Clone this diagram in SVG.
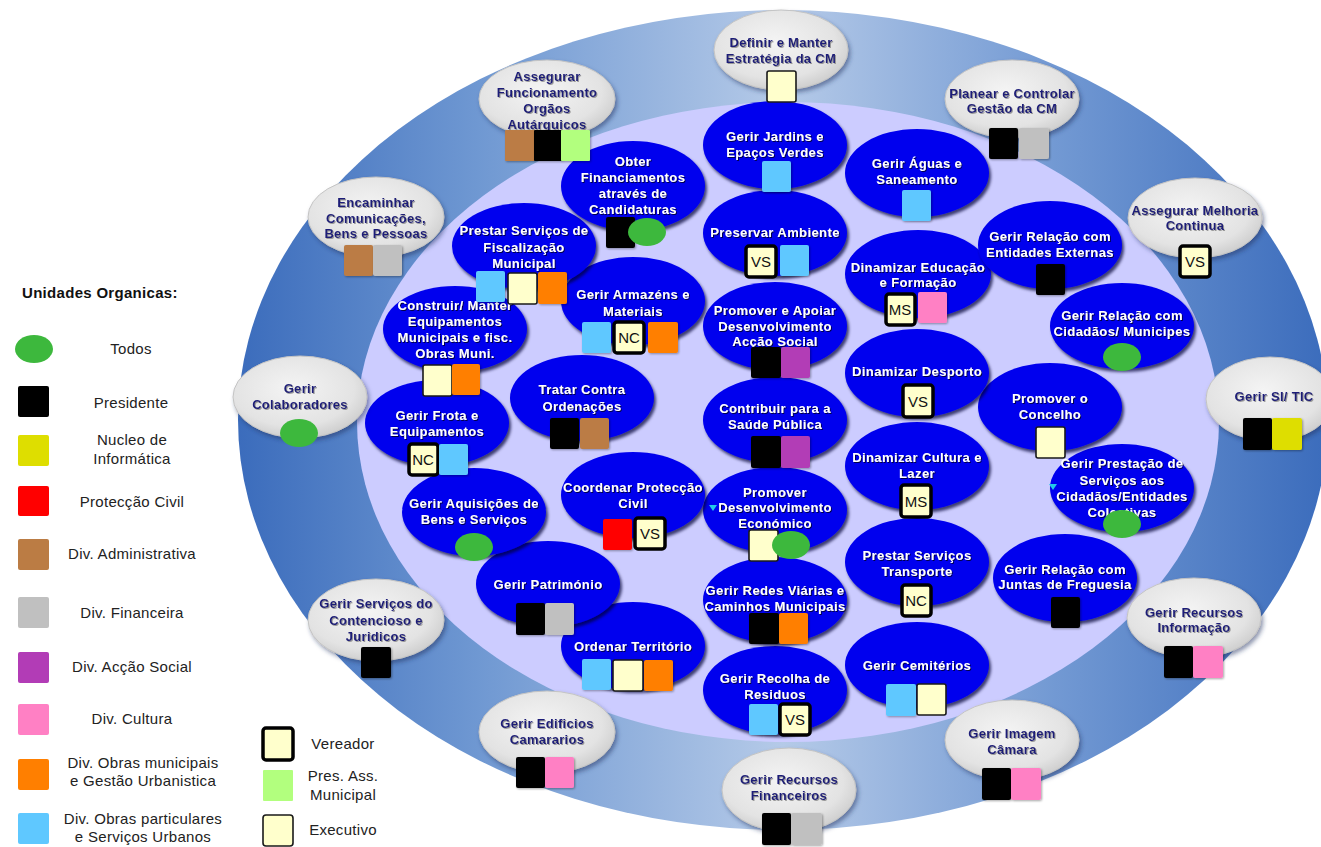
<svg xmlns="http://www.w3.org/2000/svg" width="1321" height="847" viewBox="0 0 1321 847">
<defs>
<linearGradient id="ring" x1="0" y1="0" x2="1" y2="0">
<stop offset="0" stop-color="#3b6cbc"/>
<stop offset="0.22" stop-color="#6f98d2"/>
<stop offset="0.5" stop-color="#b5cae8"/>
<stop offset="0.75" stop-color="#7299d3"/>
<stop offset="1" stop-color="#3b6cbc"/>
</linearGradient>
<radialGradient id="gg" cx="0.45" cy="0.4" r="0.65">
<stop offset="0" stop-color="#f4f4f4"/>
<stop offset="0.7" stop-color="#e3e3e3"/>
<stop offset="1" stop-color="#c9c9c9"/>
</radialGradient>
<filter id="sh" x="-20%" y="-20%" width="140%" height="150%">
<feDropShadow dx="2" dy="3" stdDeviation="1.5" flood-color="#000033" flood-opacity="0.7"/>
</filter>
<filter id="sg" x="-20%" y="-20%" width="140%" height="150%">
<feDropShadow dx="2" dy="3" stdDeviation="2" flood-color="#203060" flood-opacity="0.5"/>
</filter>
<filter id="sb" x="-20%" y="-20%" width="150%" height="150%">
<feDropShadow dx="1" dy="1" stdDeviation="1" flood-color="#000" flood-opacity="0.35"/>
</filter>
<filter id="tw" x="-10%" y="-30%" width="120%" height="170%">
<feDropShadow dx="1" dy="1" stdDeviation="0.6" flood-color="#000022" flood-opacity="0.8"/>
</filter>
<filter id="tg" x="-10%" y="-30%" width="120%" height="170%">
<feDropShadow dx="1" dy="1" stdDeviation="0.6" flood-color="#777" flood-opacity="0.7"/>
</filter>
<style>
.blue{fill:#0000ee;filter:url(#sh)}
.gray{fill:url(#gg);stroke:#c4c4c4;stroke-width:1;filter:url(#sg)}
.bt{font-family:"Liberation Sans",Arial,sans-serif;font-weight:bold;font-size:13px;letter-spacing:0.4px;fill:#fff;text-anchor:middle;filter:url(#tw)}
.gt{font-family:"Liberation Sans",Arial,sans-serif;font-weight:bold;font-size:13px;letter-spacing:0.3px;fill:#1e1e78;text-anchor:middle;filter:url(#tg)}
.lt{font-family:"Liberation Sans",Arial,sans-serif;font-size:15px;letter-spacing:0.3px;fill:#222;text-anchor:middle}
.hd{font-family:"Liberation Sans",Arial,sans-serif;font-weight:bold;font-size:15px;letter-spacing:0.3px;fill:#111}
.bx{filter:url(#sb)}
.k{fill:#000}
.br{fill:#bb7c44}
.gy{fill:#c0c0c0}
.lg{fill:#b2ff7e}
.lb{fill:#5fc8ff}
.or{fill:#ff7f00}
.pu{fill:#b23cb6}
.pk{fill:#ff80c4}
.ye{fill:#dede00}
.rd{fill:#ff0000}
.gr{fill:#3db83d}
.ex{fill:#ffffcc;stroke:#1a1a1a;stroke-width:1.6}
.vr{fill:#ffffcc;stroke:#000;stroke-width:3.5}
.vt{font-family:"Liberation Sans",Arial,sans-serif;font-size:15px;fill:#111;text-anchor:middle}
.tri{fill:#22c8e8}
</style>
</defs>

<g id="background">
<ellipse cx="783" cy="420" rx="545" ry="410" fill="url(#ring)"/>
<ellipse cx="788" cy="422" rx="431" ry="320" fill="#ccccff"/>
</g>

<g id="connectors"/>

<!-- blue nodes, drawn bottom first -->
<g id="n-recolha">
<ellipse class="blue" cx="775" cy="690" rx="72" ry="44"/>
<text class="bt"><tspan x="775" y="683">Gerir Recolha de</tspan><tspan x="775" y="699">Residuos</tspan></text>
<rect class="bx lb" x="749" y="704" width="29" height="31" rx="2"/>
<rect class="vr" x="780" y="704" width="30" height="31" rx="3"/>
<text class="vt" x="795" y="725">VS</text>
</g>

<g id="n-cemiterios">
<ellipse class="blue" cx="917" cy="665" rx="72" ry="43"/>
<text class="bt" x="917" y="670">Gerir Cemitérios</text>
<rect class="bx lb" x="886" y="684" width="30" height="32" rx="2"/>
<rect class="ex" x="917" y="684" width="29" height="31" rx="2"/>
</g>

<g id="n-ordenar">
<ellipse class="blue" cx="633" cy="646" rx="72" ry="44"/>
<text class="bt" x="633" y="651">Ordenar Território</text>
<rect class="bx lb" x="582" y="659" width="29" height="31" rx="2"/>
<rect class="ex" x="613" y="660" width="30" height="31" rx="2"/>
<rect class="bx or" x="644" y="660" width="29" height="31" rx="2"/>
</g>

<g id="n-redes">
<ellipse class="blue" cx="775" cy="600" rx="72" ry="43"/>
<text class="bt"><tspan x="775" y="595">Gerir Redes Viárias e</tspan><tspan x="775" y="611">Caminhos Municipais</tspan></text>
<rect class="bx k" x="749" y="613" width="30" height="31" rx="2"/>
<rect class="bx or" x="779" y="613" width="29" height="31" rx="2"/>
</g>

<g id="n-patrimonio">
<ellipse class="blue" cx="548" cy="584" rx="72" ry="43"/>
<text class="bt" x="548" y="589">Gerir Património</text>
<rect class="bx k" x="516" y="603" width="29" height="32" rx="2"/>
<rect class="bx gy" x="545" y="603" width="29" height="32" rx="2"/>
</g>

<g id="n-juntas">
<ellipse class="blue" cx="1065" cy="578" rx="72" ry="44"/>
<text class="bt"><tspan x="1065" y="574">Gerir Relação com</tspan><tspan x="1065" y="589">Juntas de Freguesia</tspan></text>
<rect class="bx k" x="1051" y="597" width="29" height="31" rx="2"/>
</g>

<g id="n-transporte">
<ellipse class="blue" cx="917" cy="562" rx="72" ry="44"/>
<text class="bt"><tspan x="917" y="560">Prestar Serviços</tspan><tspan x="917" y="576">Transporte</tspan></text>
<rect class="vr" x="902" y="585" width="29" height="31" rx="3"/>
<text class="vt" x="916" y="606">NC</text>
</g>

<g id="n-aquisicoes">
<ellipse class="blue" cx="474" cy="512" rx="72" ry="44"/>
<text class="bt"><tspan x="474" y="508">Gerir Aquisições de</tspan><tspan x="474" y="524">Bens e Serviços</tspan></text>
<ellipse class="gr" cx="474" cy="547" rx="19" ry="14"/>
</g>

<g id="n-economico">
<ellipse class="blue" cx="775" cy="510" rx="72" ry="43"/>
<text class="bt"><tspan x="775" y="497">Promover</tspan><tspan x="775" y="512">Desenvolvimento</tspan><tspan x="775" y="528">Económico</tspan></text>
<polygon class="tri" points="709,505 717,505 713,511"/>
<rect class="ex" x="749" y="530" width="29" height="31" rx="2"/>
<ellipse class="gr" cx="791" cy="545" rx="19" ry="14"/>
</g>

<g id="n-coordenar">
<ellipse class="blue" cx="633" cy="495" rx="72" ry="43"/>
<text class="bt"><tspan x="633" y="492">Coordenar Protecção</tspan><tspan x="633" y="508">Civil</tspan></text>
<rect class="bx rd" x="603" y="519" width="29" height="31" rx="2"/>
<rect class="vr" x="635" y="518" width="30" height="31" rx="3"/>
<text class="vt" x="650" y="539">VS</text>
</g>

<g id="n-prestacao">
<ellipse class="blue" cx="1122" cy="488" rx="72" ry="44"/>
<text class="bt"><tspan x="1122" y="468">Gerir Prestação de</tspan><tspan x="1122" y="485">Serviços aos</tspan><tspan x="1122" y="501">Cidadãos/Entidades</tspan><tspan x="1122" y="517">Colectivas</tspan></text>
<polygon class="tri" points="1049,484 1057,484 1053,490"/>
<ellipse class="gr" cx="1122" cy="524" rx="19" ry="14"/>
</g>

<g id="n-cultura">
<ellipse class="blue" cx="917" cy="466" rx="72" ry="44"/>
<text class="bt"><tspan x="917" y="462">Dinamizar Cultura e</tspan><tspan x="917" y="478">Lazer</tspan></text>
<rect class="vr" x="901" y="485" width="30" height="32" rx="3"/>
<text class="vt" x="916" y="507">MS</text>
</g>

<g id="n-frota">
<ellipse class="blue" cx="437" cy="423" rx="72" ry="43"/>
<text class="bt"><tspan x="437" y="420">Gerir Frota e</tspan><tspan x="437" y="436">Equipamentos</tspan></text>
<rect class="vr" x="409" y="444" width="29" height="31" rx="3"/>
<text class="vt" x="423" y="465">NC</text>
<rect class="bx lb" x="439" y="444" width="29" height="31" rx="2"/>
</g>

<g id="n-saude">
<ellipse class="blue" cx="775" cy="420" rx="72" ry="43"/>
<text class="bt"><tspan x="775" y="413">Contribuir para a</tspan><tspan x="775" y="429">Saúde Pública</tspan></text>
<rect class="bx k" x="751" y="436" width="30" height="32" rx="2"/>
<rect class="bx pu" x="781" y="436" width="29" height="32" rx="2"/>
</g>

<g id="n-concelho">
<ellipse class="blue" cx="1050" cy="407" rx="72" ry="44"/>
<text class="bt"><tspan x="1050" y="403">Promover o</tspan><tspan x="1050" y="419">Concelho</tspan></text>
<rect class="ex" x="1036" y="427" width="29" height="31" rx="2"/>
</g>

<g id="n-tratar">
<ellipse class="blue" cx="582" cy="398" rx="72" ry="43"/>
<text class="bt"><tspan x="582" y="394">Tratar Contra</tspan><tspan x="582" y="411">Ordenações</tspan></text>
<rect class="bx k" x="550" y="418" width="29" height="31" rx="2"/>
<rect class="bx br" x="580" y="418" width="29" height="31" rx="2"/>
</g>

<g id="n-desporto">
<ellipse class="blue" cx="917" cy="373" rx="72" ry="44"/>
<text class="bt" x="917" y="376">Dinamizar Desporto</text>
<rect class="vr" x="903" y="385" width="30" height="32" rx="3"/>
<text class="vt" x="918" y="407">VS</text>
</g>

<g id="n-construir">
<ellipse class="blue" cx="455" cy="329" rx="72" ry="43"/>
<text class="bt"><tspan x="455" y="310">Construir/ Manter</tspan><tspan x="455" y="326">Equipamentos</tspan><tspan x="455" y="342">Municipais e fisc.</tspan><tspan x="455" y="358">Obras Muni.</tspan></text>
<rect class="ex" x="423" y="365" width="29" height="31" rx="2"/>
<rect class="bx or" x="452" y="364" width="28" height="31" rx="2"/>
</g>

<g id="n-municipes">
<ellipse class="blue" cx="1122" cy="326" rx="72" ry="43"/>
<text class="bt"><tspan x="1122" y="320">Gerir Relação com</tspan><tspan x="1122" y="336">Cidadãos/ Municipes</tspan></text>
<ellipse class="gr" cx="1122" cy="357" rx="19" ry="14"/>
</g>

<g id="n-accao-social">
<ellipse class="blue" cx="775" cy="326" rx="72" ry="44"/>
<text class="bt"><tspan x="775" y="315">Promover e Apoiar</tspan><tspan x="775" y="331">Desenvolvimento</tspan><tspan x="775" y="346">Acção Social</tspan></text>
<rect class="bx k" x="751" y="347" width="30" height="31" rx="2"/>
<rect class="bx pu" x="781" y="347" width="29" height="31" rx="2"/>
</g>

<g id="n-armazens">
<ellipse class="blue" cx="633" cy="301" rx="72" ry="44"/>
<text class="bt"><tspan x="633" y="299">Gerir Armazéns e</tspan><tspan x="633" y="316">Materiais</tspan></text>
<rect class="bx lb" x="582" y="322" width="29" height="31" rx="2"/>
<rect class="vr" x="614" y="322" width="30" height="31" rx="3"/>
<text class="vt" x="629" y="343">NC</text>
<rect class="bx or" x="648" y="322" width="30" height="31" rx="2"/>
</g>

<g id="n-educacao">
<ellipse class="blue" cx="918" cy="274" rx="73" ry="44"/>
<text class="bt"><tspan x="918" y="272">Dinamizar Educação</tspan><tspan x="918" y="287">e Formação</tspan></text>
<rect class="vr" x="886" y="294" width="29" height="31" rx="3"/>
<text class="vt" x="900" y="315">MS</text>
<rect class="bx pk" x="918" y="292" width="29" height="31" rx="2"/>
</g>

<g id="n-fiscalizacao">
<ellipse class="blue" cx="524" cy="246" rx="72" ry="43"/>
<text class="bt"><tspan x="524" y="235">Prestar Serviços de</tspan><tspan x="524" y="252">Fiscalização</tspan><tspan x="524" y="268">Municipal</tspan></text>
<rect class="bx lb" x="476" y="271" width="29" height="31" rx="2"/>
<rect class="ex" x="508" y="273" width="29" height="31" rx="2"/>
<rect class="bx or" x="538" y="272" width="29" height="32" rx="2"/>
</g>

<g id="n-entidades">
<ellipse class="blue" cx="1050" cy="245" rx="72" ry="44"/>
<text class="bt"><tspan x="1050" y="241">Gerir Relação com</tspan><tspan x="1050" y="257">Entidades Externas</tspan></text>
<rect class="bx k" x="1036" y="264" width="29" height="31" rx="2"/>
</g>

<g id="n-ambiente">
<ellipse class="blue" cx="775" cy="233" rx="72" ry="43"/>
<text class="bt" x="775" y="237">Preservar Ambiente</text>
<rect class="vr" x="746" y="246" width="30" height="31" rx="3"/>
<text class="vt" x="761" y="267">VS</text>
<rect class="bx lb" x="780" y="245" width="29" height="31" rx="2"/>
</g>

<g id="n-obter">
<ellipse class="blue" cx="633" cy="186" rx="72" ry="45"/>
<text class="bt"><tspan x="633" y="166">Obter</tspan><tspan x="633" y="182">Financiamentos</tspan><tspan x="633" y="198">através de</tspan><tspan x="633" y="214">Candidaturas</tspan></text>
<rect class="bx k" x="606" y="217" width="29" height="31" rx="2"/>
<ellipse class="gr" cx="647" cy="232" rx="19" ry="14"/>
</g>

<g id="n-aguas">
<ellipse class="blue" cx="917" cy="173" rx="72" ry="44"/>
<text class="bt"><tspan x="917" y="168">Gerir Águas e</tspan><tspan x="917" y="184">Saneamento</tspan></text>
<rect class="bx lb" x="902" y="190" width="29" height="31" rx="2"/>
</g>

<g id="n-jardins">
<ellipse class="blue" cx="775" cy="145" rx="72" ry="44"/>
<text class="bt"><tspan x="775" y="141">Gerir Jardins e</tspan><tspan x="775" y="157">Epaços Verdes</tspan></text>
<rect class="bx lb" x="762" y="161" width="29" height="31" rx="2"/>
</g>

<!-- outer ring gray nodes -->
<g id="g-definir">
<ellipse class="gray" cx="781" cy="50" rx="67" ry="40"/>
<text class="gt"><tspan x="781" y="47">Definir e Manter</tspan><tspan x="781" y="63">Estratégia da CM</tspan></text>
<rect class="ex" x="767" y="71" width="29" height="31" rx="2"/>
</g>

<g id="g-funcionamento">
<ellipse class="gray" cx="547" cy="99" rx="68" ry="39"/>
<text class="gt"><tspan x="547" y="81">Assegurar</tspan><tspan x="547" y="97">Funcionamento</tspan><tspan x="547" y="113">Orgãos</tspan><tspan x="547" y="129">Autárquicos</tspan></text>
<rect class="bx br" x="505" y="130" width="30" height="31" rx="1"/>
<rect class="bx k" x="534" y="130" width="28" height="31" rx="1"/>
<rect class="bx lg" x="561" y="130" width="29" height="31" rx="1"/>
</g>

<g id="g-planear">
<ellipse class="gray" cx="1012" cy="99" rx="67" ry="39"/>
<text class="gt"><tspan x="1012" y="98">Planear e Controlar</tspan><tspan x="1012" y="113">Gestão da CM</tspan></text>
<rect class="bx k" x="989" y="128" width="29" height="31" rx="2"/>
<rect class="bx gy" x="1019" y="128" width="30" height="31" rx="2"/>
</g>

<g id="g-encaminhar">
<ellipse class="gray" cx="376" cy="217" rx="68" ry="40"/>
<text class="gt"><tspan x="376" y="207">Encaminhar</tspan><tspan x="376" y="223">Comunicações,</tspan><tspan x="376" y="238">Bens e Pessoas</tspan></text>
<rect class="bx br" x="344" y="245" width="29" height="31" rx="2"/>
<rect class="bx gy" x="373" y="245" width="29" height="31" rx="2"/>
</g>

<g id="g-melhoria">
<ellipse class="gray" cx="1195" cy="218" rx="67" ry="40"/>
<text class="gt"><tspan x="1195" y="215">Assegurar Melhoria</tspan><tspan x="1195" y="230">Continua</tspan></text>
<rect class="vr" x="1180" y="246" width="30" height="31" rx="3"/>
<text class="vt" x="1195" y="267">VS</text>
</g>

<g id="g-colaboradores">
<ellipse class="gray" cx="300" cy="397" rx="67" ry="41"/>
<text class="gt"><tspan x="300" y="393">Gerir</tspan><tspan x="300" y="409">Colaboradores</tspan></text>
<ellipse class="gr" cx="299" cy="433" rx="19" ry="14"/>
</g>

<g id="g-si-tic">
<ellipse class="gray" cx="1270" cy="399" rx="64" ry="42"/>
<text class="gt" x="1274" y="401">Gerir SI/ TIC</text>
<rect class="bx k" x="1243" y="418" width="29" height="32" rx="2"/>
<rect class="bx ye" x="1272" y="418" width="30" height="32" rx="2"/>
</g>

<g id="g-contencioso">
<ellipse class="gray" cx="376" cy="620" rx="68" ry="41"/>
<text class="gt"><tspan x="376" y="608">Gerir Serviços do</tspan><tspan x="376" y="625">Contencioso e</tspan><tspan x="376" y="641">Juridicos</tspan></text>
<rect class="bx k" x="361" y="647" width="30" height="31" rx="2"/>
</g>

<g id="g-informacao">
<ellipse class="gray" cx="1194" cy="618" rx="67" ry="40"/>
<text class="gt"><tspan x="1194" y="617">Gerir Recursos</tspan><tspan x="1194" y="632">Informação</tspan></text>
<rect class="bx k" x="1164" y="646" width="29" height="32" rx="2"/>
<rect class="bx pk" x="1193" y="646" width="30" height="32" rx="2"/>
</g>

<g id="g-edificios">
<ellipse class="gray" cx="547" cy="732" rx="68" ry="41"/>
<text class="gt"><tspan x="547" y="728">Gerir Edificios</tspan><tspan x="547" y="744">Camararios</tspan></text>
<rect class="bx k" x="516" y="757" width="29" height="31" rx="2"/>
<rect class="bx pk" x="545" y="757" width="29" height="31" rx="2"/>
</g>

<g id="g-imagem">
<ellipse class="gray" cx="1012" cy="740" rx="67" ry="40"/>
<text class="gt"><tspan x="1012" y="738">Gerir Imagem</tspan><tspan x="1012" y="754">Câmara</tspan></text>
<rect class="bx k" x="982" y="768" width="29" height="32" rx="2"/>
<rect class="bx pk" x="1011" y="768" width="30" height="32" rx="2"/>
</g>

<g id="g-financeiros">
<ellipse class="gray" cx="789" cy="790" rx="67" ry="42"/>
<text class="gt"><tspan x="789" y="784">Gerir Recursos</tspan><tspan x="789" y="800">Financeiros</tspan></text>
<rect class="bx k" x="762" y="813" width="29" height="32" rx="2"/>
<rect class="bx gy" x="791" y="813" width="31" height="32" rx="2"/>
</g>

<!-- legends -->
<g id="legend-unidades">
<text class="hd" x="22" y="298">Unidades Organicas:</text>
<ellipse class="gr" cx="34" cy="349" rx="19" ry="14"/>
<text class="lt" x="131" y="354">Todos</text>
<rect class="k" x="18" y="386" width="31" height="31" rx="2"/>
<text class="lt" x="131" y="408">Presidente</text>
<rect class="ye" x="18" y="435" width="31" height="31" rx="2"/>
<text class="lt"><tspan x="132" y="445">Nucleo de</tspan><tspan x="132" y="464">Informática</tspan></text>
<rect class="rd" x="18" y="486" width="31" height="30" rx="2"/>
<text class="lt" x="132" y="507">Protecção Civil</text>
<rect class="br" x="18" y="539" width="31" height="31" rx="2"/>
<text class="lt" x="132" y="559">Div. Administrativa</text>
<rect class="gy" x="18" y="597" width="31" height="31" rx="2"/>
<text class="lt" x="132" y="618">Div. Financeira</text>
<rect class="pu" x="18" y="652" width="31" height="31" rx="2"/>
<text class="lt" x="132" y="672">Div. Acção Social</text>
<rect class="pk" x="18" y="704" width="31" height="31" rx="2"/>
<text class="lt" x="132" y="724">Div. Cultura</text>
<rect class="or" x="18" y="759" width="31" height="31" rx="2"/>
<text class="lt"><tspan x="143" y="768">Div. Obras municipais</tspan><tspan x="143" y="786">e Gestão Urbanistica</tspan></text>
<rect class="lb" x="18" y="813" width="31" height="31" rx="2"/>
<text class="lt"><tspan x="143" y="824">Div. Obras particulares</tspan><tspan x="143" y="842">e Serviços Urbanos</tspan></text>
</g>

<g id="legend-tipos">
<rect class="vr" x="263" y="728" width="30" height="32" rx="3"/>
<text class="lt" x="343" y="749">Vereador</text>
<rect class="lg" x="263" y="770" width="30" height="31" rx="1"/>
<text class="lt"><tspan x="343" y="781">Pres. Ass.</tspan><tspan x="343" y="800">Municipal</tspan></text>
<rect class="ex" x="263" y="815" width="30" height="31" rx="3"/>
<text class="lt" x="343" y="835">Executivo</text>
</g>
</svg>
